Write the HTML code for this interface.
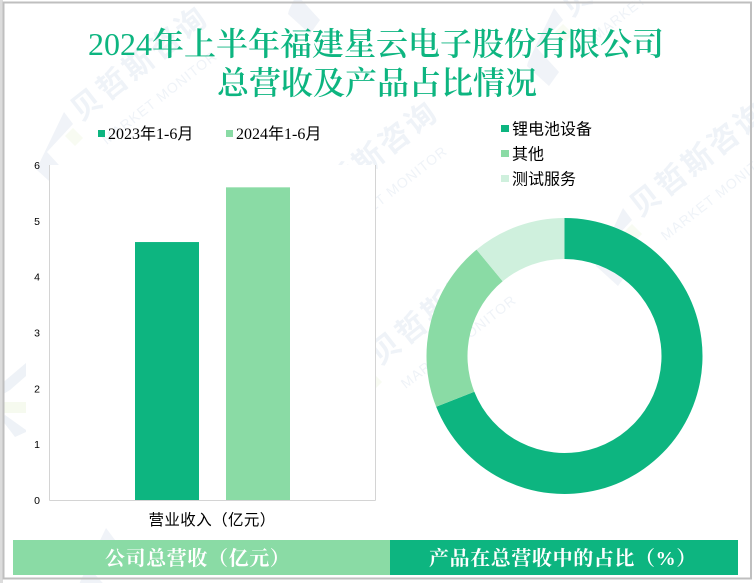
<!DOCTYPE html>
<html lang="zh">
<head>
<meta charset="utf-8">
<title>2024年上半年福建星云电子股份有限公司总营收及产品占比情况</title>
<style>
html,body{margin:0;padding:0;background:#fff;width:754px;height:583px;overflow:hidden;}
#wrap{position:relative;width:754px;height:583px;overflow:hidden;}
#stage{display:block;width:754px;height:583px;overflow:hidden;}
.wm-cn{font-family:"Liberation Sans","Noto Sans CJK SC",sans-serif;font-size:30px;font-weight:700;fill:#eff3f8;letter-spacing:3px;}
.wm-en{font-family:"Liberation Sans",sans-serif;font-size:14px;fill:#eff3f8;letter-spacing:1px;}
.title{font-family:"Liberation Serif","Noto Serif CJK SC",serif;font-size:32px;font-weight:600;fill:#0db580;text-anchor:middle;}
.lbl{font-family:"Liberation Serif","WenQuanYi Zen Hei","Noto Sans CJK SC",sans-serif;fill:#000;}
.tick{font-family:"Liberation Sans",sans-serif;font-size:10.5px;fill:#000;text-anchor:end;}
.band{font-family:"Liberation Serif","Noto Serif CJK SC",serif;font-size:20px;font-weight:700;fill:#fff;text-anchor:start;letter-spacing:0.6px;}
</style>
</head>
<body>
<div id="wrap">
<svg id="stage" xmlns="http://www.w3.org/2000/svg" width="754" height="583" viewBox="0 0 754 583">
  <rect x="0" y="0" width="754" height="583" fill="#fff"/>
  <defs>
    <clipPath id="frame-clip"><rect x="0" y="0" width="754" height="583"/></clipPath>
    <g id="wm-logo">
      <polygon points="11,-32 20,-20 -6,8 16,32 6,46 -16,26 -15,22" fill="#f0f3f8"/>
      <polygon points="20,-16 30,-6 22,2 12,-8" fill="#f8fbf2"/>
    </g>
    <g id="wm-unit">
      <use href="#wm-logo"/>
      <g transform="translate(28,-22) rotate(-38)">
        <text class="wm-cn" x="0" y="0">贝哲斯咨询</text>
        <text class="wm-en" x="6" y="34">MARKET MONITOR</text>
      </g>
    </g>
  </defs>
  <g clip-path="url(#frame-clip)">
    <use href="#wm-unit" x="53" y="144"/>
    <use href="#wm-unit" x="283" y="239"/>
    <use href="#wm-logo" x="304" y="-12"/>
    <use href="#wm-unit" x="352" y="388"/>
    <use href="#wm-unit" x="612" y="240"/>
    <use href="#wm-unit" x="543" y="40"/>
    <use href="#wm-logo" x="95" y="560"/>
    <polygon points="26,363 26,376 10,390 0,396 0,385" fill="#eef2f7"/>
    <polygon points="0,402 26,402 26,413 0,413" fill="#f6faef"/>
    <polygon points="5,415 26,430 26,432 15,437 2,420" fill="#eef2f7"/>
  </g>
  <rect x="0" y="0" width="3" height="583" fill="#dcdcdc"/>
  <rect x="3.5" y="2.5" width="747.5" height="576" fill="none" stroke="#bfbfbf" stroke-width="2"/>

  <g>
    <text class="title" x="376" y="55"><tspan font-weight="400">2024</tspan>年上半年福建星云电子股份有限公司</text>
    <text class="title" x="377" y="94">总营收及产品占比情况</text>
  </g>

  <g id="bar-chart"></g>
  <g id="donut-chart"></g>

  <rect x="13" y="540" width="377" height="35" fill="#8adba5"/>
  <text class="band" x="105" y="565">公司总营收（亿元）</text>
  <rect x="390" y="540" width="348" height="35" fill="#0db580"/>
  <text class="band" x="429" y="565">产品在总营收中的占比（%）</text>
</svg>
</div>
<script>
var barCategories = ['营业收入（亿元）'];
var barSeriesNames = ['2023年1-6月', '2024年1-6月'];
var barSeriesValues = [[4.62], [5.6]];
var yTickLabels = [0, 1, 2, 3, 4, 5, 6];
var donutLabels = ['锂电池设备', '其他', '测试服务'];
var donutValues = [69, 20, 11];

var NS = 'http://www.w3.org/2000/svg';
var seriesColors = ['#0db580', '#8adba5', '#cff0dd'];

function make(parent, tag, attrs, text) {
  var el = document.createElementNS(NS, tag);
  for (var k in attrs) { el.setAttribute(k, attrs[k]); }
  if (text !== undefined) { el.textContent = text; }
  parent.appendChild(el);
  return el;
}

/* ---------- bar chart ---------- */
var barRoot = document.getElementById('bar-chart');
var plotLeft = 49.5, plotRight = 375.5, plotTop = 165, plotBottom = 500;
var yMax = yTickLabels[yTickLabels.length - 1];
function yScale(v) { return plotBottom - (v / yMax) * (plotBottom - plotTop); }
var bandWidth = (plotRight - plotLeft) / barCategories.length;
function xBand(i) { return plotLeft + bandWidth * i + bandWidth / 2; }
var barWidth = 64, barGap = 27;
function xBar(catIndex, seriesIndex) {
  var total = barSeriesValues.length * barWidth + (barSeriesValues.length - 1) * barGap;
  return xBand(catIndex) - total / 2 + seriesIndex * (barWidth + barGap);
}

var plotBg = make(barRoot, 'rect', {x: plotLeft, y: plotTop, width: plotRight - plotLeft, height: plotBottom - plotTop, fill: '#fff'});



var axisL = make(barRoot, 'line', {x1: plotLeft, y1: plotTop, x2: plotLeft, y2: plotBottom + 0.5, stroke: '#d4d4d4', 'stroke-width': 1});


var axisR = make(barRoot, 'line', {x1: plotRight, y1: plotTop, x2: plotRight, y2: plotBottom + 0.5, stroke: '#d4d4d4', 'stroke-width': 1});


var axisB = make(barRoot, 'line', {x1: plotLeft, y1: plotBottom + 0.5, x2: plotRight, y2: plotBottom + 0.5, stroke: '#d4d4d4', 'stroke-width': 1});



yTickLabels.forEach(function (t) {
  var tk = make(barRoot, 'text', {'class': 'tick', x: 40, y: yScale(t) + 4}, String(t));
  
  
});

barSeriesValues.forEach(function (vals, s) {
  vals.forEach(function (v, c) {
    var b = make(barRoot, 'rect', {x: xBar(c, s), y: yScale(v), width: barWidth, height: plotBottom - yScale(v), fill: seriesColors[s]});
    
    
  });
});

barCategories.forEach(function (c, i) {
  var xl = make(barRoot, 'text', {'class': 'lbl', x: xBand(i) - 64, y: 525, 'font-size': 15.5, 'letter-spacing': 0.4}, c);
  
  
});

var legendXs = [98, 226];
barSeriesNames.forEach(function (n, i) {
  var sw = make(barRoot, 'rect', {x: legendXs[i], y: 130, width: 7, height: 7, fill: seriesColors[i]});
  
  
  var tx = make(barRoot, 'text', {'class': 'lbl', x: legendXs[i] + 10, y: 139, 'font-size': 16}, n);
  
  
});

/* ---------- donut chart ---------- */
var donutRoot = document.getElementById('donut-chart');
var cx = 564.5, cy = 356, outerR = 138, innerR = 97;
var donutTotal = donutValues.reduce(function (a, b) { return a + b; }, 0);
function angleOf(share) { return share / donutTotal * 2 * Math.PI; }
function pt(r, a) { return [cx + r * Math.sin(a), cy - r * Math.cos(a)]; }
function arcPath(a0, a1) {
  var large = (a1 - a0) > Math.PI ? 1 : 0;
  var p0 = pt(outerR, a0), p1 = pt(outerR, a1), p2 = pt(innerR, a1), p3 = pt(innerR, a0);
  return 'M' + p0[0] + ' ' + p0[1] +
    'A' + outerR + ' ' + outerR + ' 0 ' + large + ' 1 ' + p1[0] + ' ' + p1[1] +
    'L' + p2[0] + ' ' + p2[1] +
    'A' + innerR + ' ' + innerR + ' 0 ' + large + ' 0 ' + p3[0] + ' ' + p3[1] + 'Z';
}
var running = 0;
donutValues.forEach(function (v, i) {
  var a0 = angleOf(running);
  running += v;
  var a1 = angleOf(running);
  var s = make(donutRoot, 'path', {d: arcPath(a0, a1), fill: seriesColors[i]});
  
  
});

var donutLegendYs = [129, 154, 179];
donutLabels.forEach(function (n, i) {
  var sw = make(donutRoot, 'rect', {x: 501, y: donutLegendYs[i] - 4, width: 8, height: 7, fill: seriesColors[i]});
  
  
  var tx = make(donutRoot, 'text', {'class': 'lbl', x: 512, y: donutLegendYs[i] + 5.5, 'font-size': 16}, n);
  
  
});
</script>
</body>
</html>
